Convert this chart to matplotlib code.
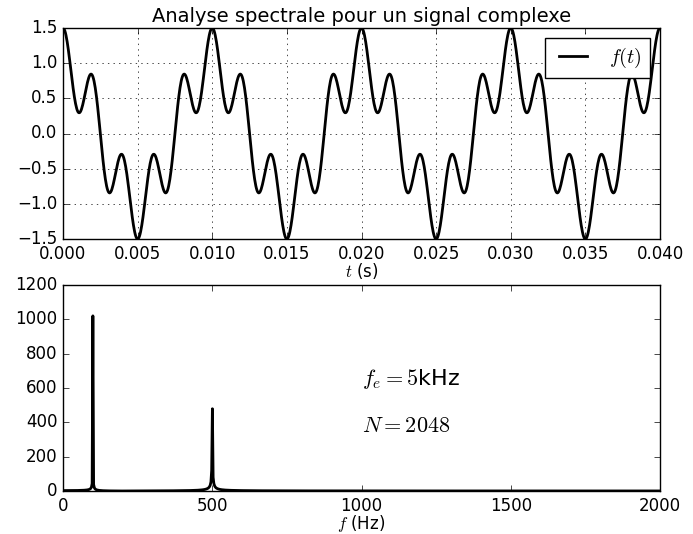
import numpy as np
import matplotlib
matplotlib.use("Agg")
import matplotlib.pyplot as plt

plt.style.use('classic')
plt.rcParams['mathtext.fontset'] = 'cm'
plt.rcParams['font.family'] = 'DejaVu Sans'

# signal parameters
fe = 5000.0          # sampling frequency (Hz)
N = 2048             # number of samples
freqs = [100.0, 500.0]
amps = [1.0, 0.5]
t_max = 0.04

def signal(tt):
    s = np.zeros_like(tt)
    for a, f in zip(amps, freqs):
        s += a * np.cos(2 * np.pi * f * tt)
    return s

# sampled signal for the spectrum
t = np.arange(N) / fe
spec = np.abs(np.fft.fft(signal(t)))
fr = np.fft.fftfreq(N, 1 / fe)
half = fr >= 0

# finer time axis for the drawing of f(t)
tp = np.linspace(0, t_max, 1001)

fig = plt.figure(figsize=(6.93, 5.34), dpi=100, facecolor='white')
ax1 = fig.add_axes([63 / 693, 1 - 239 / 534, 597 / 693, 211 / 534])
ax2 = fig.add_axes([63 / 693, 1 - 491 / 534, 597 / 693, 206 / 534])

ax1.plot(tp, signal(tp), color='black', lw=2, label=r'$f(t)$')
ax1.set_xlim(0, t_max)
ax1.set_ylim(-1.5, 1.5)
ax1.set_xticks(np.arange(0, 0.0401, 0.005))
ax1.set_yticks(np.arange(-1.5, 1.51, 0.5))
ax1.grid(True)
ax1.set_title('Analyse spectrale pour un signal complexe', fontsize=14, y=0.995)
ax1.set_xlabel(r'$t$ (s)', labelpad=-1)
ax1.legend(loc='upper right')

ax2.plot(fr[half], spec[half], color='black', lw=2)
ax2.set_xlim(0, 2000)
ax2.set_ylim(0, 1200)
ax2.set_xlabel(r'$f$ (Hz)', labelpad=-1)
ax2.text(1000, 650, r'$f_e=5$kHz', fontsize=16, va='center')
ax2.text(1000, 380, r'$N=2048$', fontsize=16, va='center')

for ax in (ax1, ax2):
    ax.tick_params(labelsize=12)

fig.savefig('out.png', dpi=100, facecolor='white')
